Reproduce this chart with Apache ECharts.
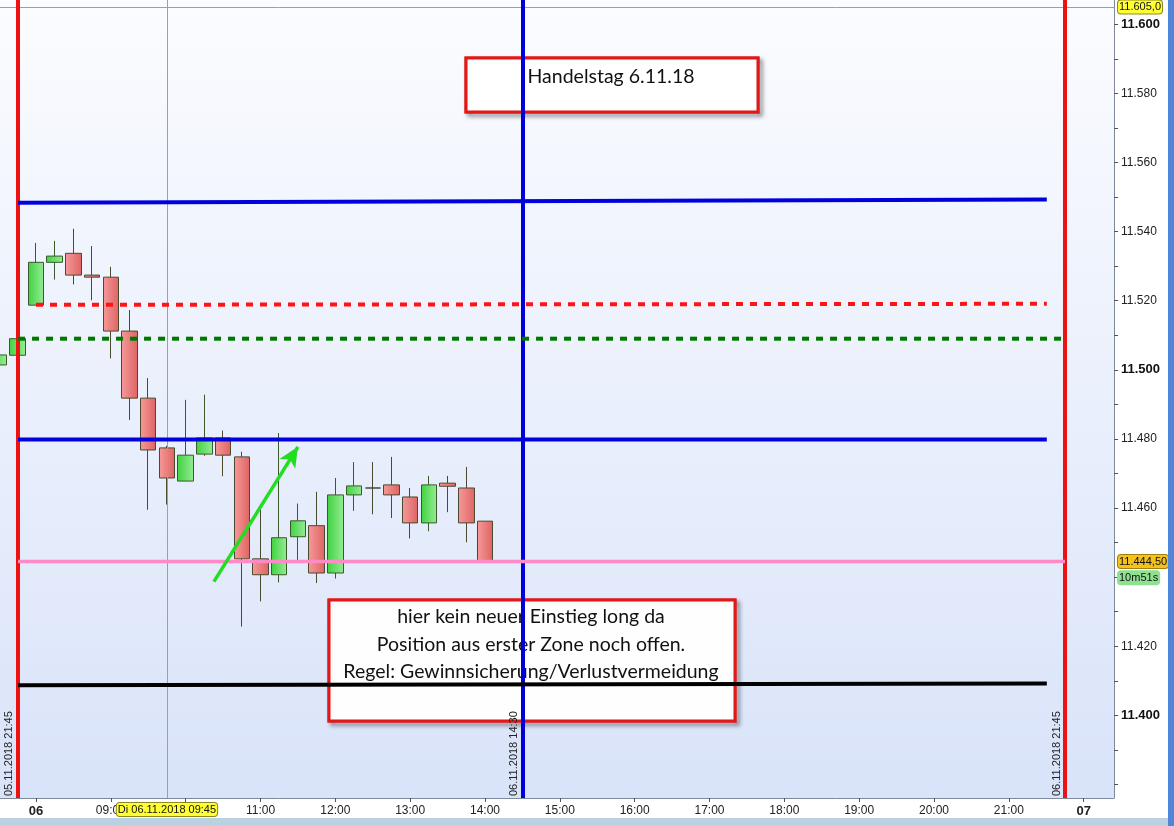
<!DOCTYPE html>
<html>
<head>
<meta charset="utf-8">
<script src="https://cdn.jsdelivr.net/npm/echarts@6/dist/echarts.min.js"></script>
<style>html,body{margin:0;padding:0;background:#fff}#c{width:1174px;height:826px}</style>
</head>
<body>
<div id="c"></div>
<script>
// ---- 15-minute slots: 0 = 06.11.2018 08:00 (trading session axis, night gap removed)
const candleSlots = [-2,-1,0,1,2,3,4,5,6,7,8,9,10,11,12,13,14,15,16,17,18,19,20,21,22,23,24];
const opens  = [11501.4,11504.2,11518.7,11531.1,11533.7,11527.4,11526.8,11511.2,11491.8,11477.4,11467.8,11475.6,11480.3,11474.8,11445.3,11440.7,11451.7,11454.9,11441.2,11463.8,11465.8,11466.7,11463.2,11455.7,11467.2,11465.8,11456.2];
const closes = [11504.3,11509.0,11531.1,11532.9,11527.4,11526.8,11511.2,11491.8,11476.8,11468.7,11475.3,11480.3,11475.3,11445.3,11440.7,11451.4,11456.3,11441.2,11463.8,11466.4,11465.8,11463.8,11455.7,11466.7,11466.3,11455.7,11444.5];
const lows   = [11501.4,11504.2,11518.7,11526.1,11524.7,11520.1,11503.3,11485.5,11459.5,11461.0,11467.8,11475.1,11469.2,11425.7,11433.0,11438.5,11444.6,11438.3,11439.6,11459.2,11458.2,11457.1,11451.2,11453.3,11458.8,11450.1,11444.5];
const highs  = [11504.3,11509.0,11536.7,11537.3,11540.8,11535.8,11529.8,11517.3,11497.6,11478.0,11491.3,11492.8,11482.4,11476.3,11460.0,11481.7,11461.3,11464.7,11468.7,11473.3,11473.3,11474.8,11465.8,11469.3,11469.3,11471.9,11456.2];

// x axis ticks
const xTickSlots  = [0,4,8,12,16,20,24,28,32,36,40,44,48,52,56];
const xTickLabels = ['06','09:00','10:00','11:00','12:00','13:00','14:00','15:00','16:00','17:00','18:00','19:00','20:00','21:00','07'];
// y axis ticks
const yTickValues = [11400,11420,11440,11460,11480,11500,11520,11540,11560,11580,11600];
const yTickLabels = ['11.400','11.420','11.440','11.460','11.480','11.500','11.520','11.540','11.560','11.580','11.600'];
const yBoldLabels = ['11.400','11.500','11.600'];
const yMinorTicks = [11380,11390,11400,11410,11420,11430,11440,11450,11460,11470,11480,11490,11500,11510,11520,11530,11540,11550,11560,11570,11580,11590,11600];

// drawn horizontal levels [slot, price]
const blueTopLevel   = [[-0.96, 11548.3], [54.03, 11549.3]];
const redDashLevel   = [[0.0, 11518.8], [54.03, 11519.1]];
const greenDashLevel = [[-0.96, 11509.0], [54.84, 11509.0]];
const blueMidLevel   = [[-0.96, 11479.8], [54.03, 11479.8]];
const pinkLevel      = [[-0.96, 11444.5], [55.0, 11444.5]];
const blackLevel     = [[-0.96, 11408.7], [54.03, 11409.2]];
const arrowLine      = [[9.51, 11438.7], [14.0, 11477.7]];

// vertical markers
const vLineSlots  = [-1, 26, 55];
const vLineLabels = ['05.11.2018 21:45', '06.11.2018 14:30', '06.11.2018 21:45'];
const vLineColors = ['#ee1111', '#0000d8', '#ee1111'];

const crossSlot = 7, crossLabel = 'Di 06.11.2018 09:45';
const crossPrice = 11605, crossPriceLabel = '11.605,0';
const lastPrice = 11444.5, lastPriceLabel = '11.444,50';
const timerPrice = 11439.8, timerLabel = '10m51s';

const chart = echarts.init(document.getElementById('c'), null, {renderer: 'canvas'});
const candleData = candleSlots.map((s, i) => [s, opens[i], closes[i], lows[i], highs[i]]);

const axisFont = 'Liberation Sans, Arial, sans-serif';
const noteFont = 'Lato, sans-serif';
const crossColor = '#7fa4dc';
function levelSeries(data, color, width, type, z) {
  return {type: 'line', data: data, symbol: 'none', silent: true, z: z || 5,
    lineStyle: {color: color, width: width, type: type || 'solid', cap: 'butt'}};
}
function pointerLabel(value, text, bg, border, margin) {
  return {show: true, status: 'show', value: value, triggerTooltip: false, type: 'none',
    lineStyle: {color: 'rgba(0,0,0,0)', width: 0},
    label: {show: true, formatter: text, backgroundColor: bg, borderColor: border, borderWidth: 1,
      color: '#111', fontFamily: axisFont, fontSize: 11, padding: [1, 1, 1, 1], margin: margin}};
}
function hiddenY(price, label, bg, border) {
  return {type: 'value', position: 'right', min: 11376.1, max: 11607.0,
    axisLine: {show: false, onZero: false}, axisTick: {show: false}, axisLabel: {show: false}, splitLine: {show: false},
    axisPointer: pointerLabel(price, label, bg, border, 4)};
}
function noteBox(x, y, w, h) {
  return [
    {type: 'rect', shape: {x: x, y: y, width: w, height: h},
      style: {fill: 'none', stroke: '#e01818', lineWidth: 3,
        shadowBlur: 4, shadowOffsetX: 3, shadowOffsetY: 3, shadowColor: 'rgba(0,0,0,0.5)'}},
    {type: 'rect', shape: {x: x, y: y, width: w, height: h},
      style: {fill: 'rgba(255,255,255,0.95)', stroke: '#e01818', lineWidth: 3}}
  ];
}
function noteText(x, y, t) {
  return {type: 'text', x: x, y: y, style: {text: t, fontSize: 19.5, fontFamily: noteFont,
    fill: '#111', align: 'center', verticalAlign: 'middle'}};
}

const verticalMarks = vLineSlots.map((s, i) => ({xAxis: s,
  lineStyle: {color: vLineColors[i], width: 4, type: 'solid'},
  label: {show: true, formatter: vLineLabels[i], position: 'insideStartTop', distance: [2, 3],
    color: '#222', fontFamily: axisFont, fontSize: 11}}));
const crossMarks = [
  {xAxis: crossSlot, lineStyle: {color: crossColor, width: 1, type: 'solid'}, label: {show: false}},
  {yAxis: crossPrice, lineStyle: {color: crossColor, width: 1, type: 'solid'}, label: {show: false}}
];

const option = {
  backgroundColor: '#ffffff',
  animation: false,
  grid: {left: 0, right: 60, top: 0, bottom: 28, show: true, borderWidth: 0,
    backgroundColor: new echarts.graphic.LinearGradient(0, 0, 0, 1, [
      {offset: 0, color: '#fbfcff'}, {offset: 1, color: '#d9e3f9'}])},
  xAxis: {type: 'value', min: -1.924, max: 57.62,
    axisLine: {show: true, onZero: false, lineStyle: {color: '#7d8a99', width: 1}},
    splitLine: {show: false},
    axisTick: {show: true, customValues: xTickSlots, length: 4, lineStyle: {color: '#555'}},
    axisLabel: {show: true, customValues: xTickSlots, margin: 7, color: '#222', fontFamily: axisFont, fontSize: 12,
      formatter: function (v) {
        const i = xTickSlots.indexOf(v);
        const t = i >= 0 ? xTickLabels[i] : '';
        return t.indexOf(':') < 0 ? '{b|' + t + '}' : t;
      },
      rich: {b: {fontWeight: 'bold', fontSize: 13, color: '#222', fontFamily: axisFont}}},
    axisPointer: pointerLabel(crossSlot, crossLabel, '#ffff33', '#8a8a20', 5)
  },
  yAxis: [{type: 'value', position: 'right', min: 11376.1, max: 11607.0,
    axisLine: {show: true, onZero: false, lineStyle: {color: '#7d8a99', width: 1}},
    splitLine: {show: false},
    axisTick: {show: true, customValues: yMinorTicks, length: 4, inside: false, lineStyle: {color: '#555'}},
    axisLabel: {show: true, customValues: yTickValues, margin: 7, color: '#222', fontFamily: axisFont, fontSize: 12,
      formatter: function (v) {
        const i = yTickValues.indexOf(v);
        const t = i >= 0 ? yTickLabels[i] : '';
        return yBoldLabels.indexOf(t) >= 0 ? '{b|' + t + '}' : t;
      },
      rich: {b: {fontWeight: 'bold', fontSize: 13, color: '#111', fontFamily: axisFont}}},
    axisPointer: pointerLabel(crossPrice, crossPriceLabel, '#ffff33', '#8a8a20', 4)
  },
    hiddenY(lastPrice, lastPriceLabel, '#f5c21c', '#a08010'),
    hiddenY(timerPrice, timerLabel, '#8fe08f', '#8fe08f')
  ],
  tooltip: {show: false},
  series: [
    {type: 'candlestick', data: candleData, encode: {x: 0, y: [1, 2, 3, 4]}, barWidth: 16, z: 3,
      itemStyle: {
        color: new echarts.graphic.LinearGradient(0, 0, 1, 0, [{offset: 0, color: '#3fd23f'}, {offset: 1, color: '#96ec96'}]),
        color0: new echarts.graphic.LinearGradient(0, 0, 1, 0, [{offset: 0, color: '#f69a9a'}, {offset: 1, color: '#de6363'}]),
        borderColor: '#3a5a2a', borderColor0: '#4a4a2c', borderWidth: 1},
      markLine: {silent: true, symbol: 'none', animation: false, data: crossMarks.concat(verticalMarks)}
    },
    levelSeries(blueTopLevel, '#0000dd', 4),
    levelSeries(redDashLevel, '#ff1414', 4, [7, 7]),
    levelSeries(greenDashLevel, '#007800', 4, [7, 7]),
    levelSeries(blueMidLevel, '#0000dd', 4),
    levelSeries(pinkLevel, '#ff8ac8', 3.5),
    levelSeries(blackLevel, '#000000', 4),
    {type: 'line', data: arrowLine, symbol: 'none', silent: true, z: 6,
      lineStyle: {color: '#22dd22', width: 3.5},
      markLine: {silent: true, animation: false, symbol: ['none', 'arrow'], symbolSize: [14, 20],
        lineStyle: {color: '#22dd22', width: 0.1, type: 'solid'}, label: {show: false},
        data: [[{coord: arrowLine[0]}, {coord: arrowLine[1]}]]}}
  ],
  graphic: [
    {type: 'rect', left: 0, top: 818, shape: {width: 1174, height: 8}, style: {fill: '#b9d1e1'}, z: 100},
    {type: 'rect', right: 0, top: 0, shape: {width: 6, height: 826}, style: {fill: '#4f86d9'}, z: 101},
    {type: 'group', z: 200, children: noteBox(466, 58, 292, 54).concat([
      noteText(611, 77, 'Handelstag 6.11.18')
    ])},
    {type: 'group', z: 200, children: noteBox(329, 600, 406, 121).concat([
      noteText(531, 617, 'hier kein neuer Einstieg long da'),
      noteText(531, 645, 'Position aus erster Zone noch offen.'),
      noteText(531, 672, 'Regel: Gewinnsicherung/Verlustvermeidung')
    ])}
  ]
};
chart.setOption(option);
</script>
</body>
</html>
